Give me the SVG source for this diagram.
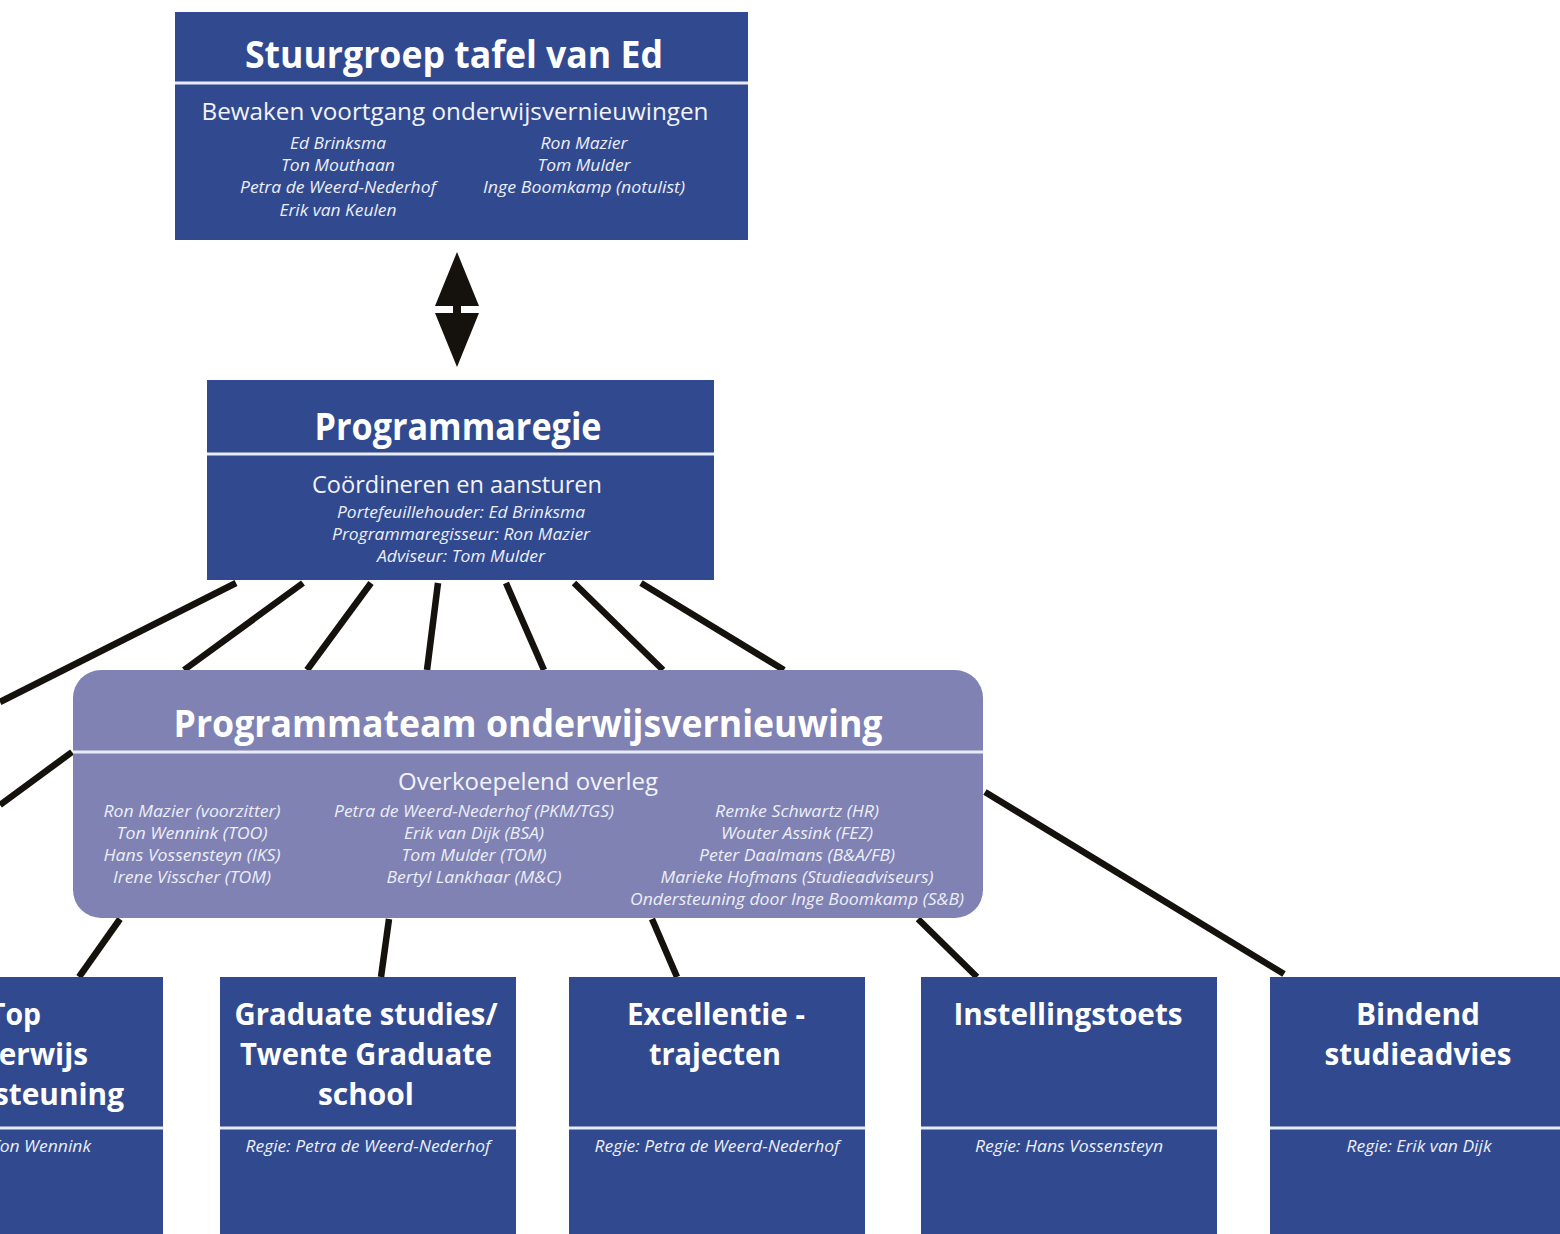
<svg xmlns="http://www.w3.org/2000/svg" width="1560" height="1234" viewBox="0 0 1560 1234">
<style>
.dk{fill:#314a8f}
.lv{fill:#8082b4}
.sep{stroke:#e9ebf6;stroke-width:3}
.t{font-family:"Open Sans","Liberation Sans",sans-serif;fill:#ffffff;text-anchor:middle}
.ti{font-weight:bold;font-size:38px}
.bt{font-weight:bold;font-size:31px}
.st{font-size:23px;fill:#f2f3f9}
.nm{font-style:italic;font-size:16px;fill:#eceef7}
.con line{stroke:#15110c;stroke-width:6.5;stroke-linecap:butt}
</style>

<g id="connectors" class="con">
  <line x1="236" y1="583" x2="0" y2="702"/>
  <line x1="303" y1="583" x2="184" y2="670"/>
  <line x1="371" y1="583" x2="307" y2="670"/>
  <line x1="438" y1="583" x2="427" y2="670"/>
  <line x1="506" y1="583" x2="544" y2="670"/>
  <line x1="574" y1="583" x2="663" y2="670"/>
  <line x1="641" y1="583" x2="784" y2="670"/>
  <line x1="72" y1="752" x2="0" y2="805"/>
  <line x1="985" y1="792" x2="1284" y2="974"/>
  <line x1="120" y1="919" x2="79" y2="977"/>
  <line x1="389" y1="919" x2="381" y2="977"/>
  <line x1="652" y1="919" x2="677" y2="977"/>
  <line x1="918" y1="919" x2="977" y2="977"/>
  <g id="arrow" fill="#15110c">
    <polygon points="457,252 479,306 435,306"/>
    <rect x="453" y="305" width="8" height="9"/>
    <polygon points="435,313 479,313 457,367"/>
  </g>
</g>

<g id="stuurgroep">
  <rect class="dk" x="175" y="12" width="573" height="228"/>
  <line class="sep" x1="175" y1="83" x2="748" y2="83"/>
  <text class="t ti" x="454" y="68" textLength="418" lengthAdjust="spacingAndGlyphs">Stuurgroep tafel van Ed</text>
  <text class="t st" x="455" y="120" textLength="507" lengthAdjust="spacingAndGlyphs">Bewaken voortgang onderwijsvernieuwingen</text>
  <text class="t nm" x="338" y="149" textLength="96" lengthAdjust="spacingAndGlyphs">Ed Brinksma</text>
  <text class="t nm" x="338" y="171" textLength="114" lengthAdjust="spacingAndGlyphs">Ton Mouthaan</text>
  <text class="t nm" x="338" y="193" textLength="196" lengthAdjust="spacingAndGlyphs">Petra de Weerd-Nederhof</text>
  <text class="t nm" x="338" y="216" textLength="117" lengthAdjust="spacingAndGlyphs">Erik van Keulen</text>
  <text class="t nm" x="584" y="149" textLength="87" lengthAdjust="spacingAndGlyphs">Ron Mazier</text>
  <text class="t nm" x="584" y="171" textLength="93" lengthAdjust="spacingAndGlyphs">Tom Mulder</text>
  <text class="t nm" x="584" y="193" textLength="202" lengthAdjust="spacingAndGlyphs">Inge Boomkamp (notulist)</text>
</g>

<g id="programmaregie">
  <rect class="dk" x="207" y="380" width="507" height="200"/>
  <line class="sep" x1="207" y1="454" x2="714" y2="454"/>
  <text class="t ti" x="458" y="440" textLength="287" lengthAdjust="spacingAndGlyphs">Programmaregie</text>
  <text class="t st" x="457" y="493" textLength="290" lengthAdjust="spacingAndGlyphs">Coördineren en aansturen</text>
  <text class="t nm" x="461" y="518" textLength="248" lengthAdjust="spacingAndGlyphs">Portefeuillehouder: Ed Brinksma</text>
  <text class="t nm" x="461" y="540" textLength="258" lengthAdjust="spacingAndGlyphs">Programmaregisseur: Ron Mazier</text>
  <text class="t nm" x="461" y="562" textLength="168" lengthAdjust="spacingAndGlyphs">Adviseur: Tom Mulder</text>
</g>

<g id="programmateam">
  <rect class="lv" x="73" y="670" width="910" height="248" rx="28" ry="28"/>
  <line class="sep" x1="73" y1="752" x2="983" y2="752"/>
  <text class="t ti" x="528" y="737" textLength="709" lengthAdjust="spacingAndGlyphs">Programmateam onderwijsvernieuwing</text>
  <text class="t st" x="528" y="790" textLength="260" lengthAdjust="spacingAndGlyphs">Overkoepelend overleg</text>
  <text class="t nm" x="192" y="817" textLength="177" lengthAdjust="spacingAndGlyphs">Ron Mazier (voorzitter)</text>
  <text class="t nm" x="192" y="839" textLength="151" lengthAdjust="spacingAndGlyphs">Ton Wennink (TOO)</text>
  <text class="t nm" x="192" y="861" textLength="177" lengthAdjust="spacingAndGlyphs">Hans Vossensteyn (IKS)</text>
  <text class="t nm" x="192" y="883" textLength="158" lengthAdjust="spacingAndGlyphs">Irene Visscher (TOM)</text>
  <text class="t nm" x="474" y="817" textLength="280" lengthAdjust="spacingAndGlyphs">Petra de Weerd-Nederhof (PKM/TGS)</text>
  <text class="t nm" x="474" y="839" textLength="140" lengthAdjust="spacingAndGlyphs">Erik van Dijk (BSA)</text>
  <text class="t nm" x="474" y="861" textLength="145" lengthAdjust="spacingAndGlyphs">Tom Mulder (TOM)</text>
  <text class="t nm" x="474" y="883" textLength="175" lengthAdjust="spacingAndGlyphs">Bertyl Lankhaar (M&amp;C)</text>
  <text class="t nm" x="797" y="817" textLength="164" lengthAdjust="spacingAndGlyphs">Remke Schwartz (HR)</text>
  <text class="t nm" x="797" y="839" textLength="152" lengthAdjust="spacingAndGlyphs">Wouter Assink (FEZ)</text>
  <text class="t nm" x="797" y="861" textLength="196" lengthAdjust="spacingAndGlyphs">Peter Daalmans (B&amp;A/FB)</text>
  <text class="t nm" x="797" y="883" textLength="273" lengthAdjust="spacingAndGlyphs">Marieke Hofmans (Studieadviseurs)</text>
  <text class="t nm" x="797" y="905" textLength="334" lengthAdjust="spacingAndGlyphs">Ondersteuning door Inge Boomkamp (S&amp;B)</text>
</g>

<g id="topondersteuning">
  <rect class="dk" x="-133" y="977" width="296" height="270"/>
  <line class="sep" x1="-133" y1="1128" x2="163" y2="1128"/>
  <text class="t bt" x="15" y="1025" textLength="52" lengthAdjust="spacingAndGlyphs">Top</text>
  <text class="t bt" x="15" y="1065" textLength="146" lengthAdjust="spacingAndGlyphs">onderwijs</text>
  <text class="t bt" x="15" y="1105" textLength="218" lengthAdjust="spacingAndGlyphs">ondersteuning</text>
  <text class="t nm" x="16" y="1152" textLength="150" lengthAdjust="spacingAndGlyphs">Regie: Ton Wennink</text>
</g>

<g id="graduate">
  <rect class="dk" x="220" y="977" width="296" height="270"/>
  <line class="sep" x1="220" y1="1128" x2="516" y2="1128"/>
  <text class="t bt" x="366" y="1025" textLength="263" lengthAdjust="spacingAndGlyphs">Graduate studies/</text>
  <text class="t bt" x="366" y="1065" textLength="252" lengthAdjust="spacingAndGlyphs">Twente Graduate</text>
  <text class="t bt" x="366" y="1105" textLength="96" lengthAdjust="spacingAndGlyphs">school</text>
  <text class="t nm" x="368" y="1152" textLength="245" lengthAdjust="spacingAndGlyphs">Regie: Petra de Weerd-Nederhof</text>
</g>

<g id="excellentie">
  <rect class="dk" x="569" y="977" width="296" height="270"/>
  <line class="sep" x1="569" y1="1128" x2="865" y2="1128"/>
  <text class="t bt" x="716" y="1025" textLength="178" lengthAdjust="spacingAndGlyphs">Excellentie -</text>
  <text class="t bt" x="715" y="1065" textLength="132" lengthAdjust="spacingAndGlyphs">trajecten</text>
  <text class="t nm" x="717" y="1152" textLength="245" lengthAdjust="spacingAndGlyphs">Regie: Petra de Weerd-Nederhof</text>
</g>

<g id="instellingstoets">
  <rect class="dk" x="921" y="977" width="296" height="270"/>
  <line class="sep" x1="921" y1="1128" x2="1217" y2="1128"/>
  <text class="t bt" x="1068" y="1025" textLength="229" lengthAdjust="spacingAndGlyphs">Instellingstoets</text>
  <text class="t nm" x="1069" y="1152" textLength="188" lengthAdjust="spacingAndGlyphs">Regie: Hans Vossensteyn</text>
</g>

<g id="bindend">
  <rect class="dk" x="1270" y="977" width="296" height="270"/>
  <line class="sep" x1="1270" y1="1128" x2="1566" y2="1128"/>
  <text class="t bt" x="1418" y="1025" textLength="124" lengthAdjust="spacingAndGlyphs">Bindend</text>
  <text class="t bt" x="1418" y="1065" textLength="187" lengthAdjust="spacingAndGlyphs">studieadvies</text>
  <text class="t nm" x="1419" y="1152" textLength="145" lengthAdjust="spacingAndGlyphs">Regie: Erik van Dijk</text>
</g>
</svg>
